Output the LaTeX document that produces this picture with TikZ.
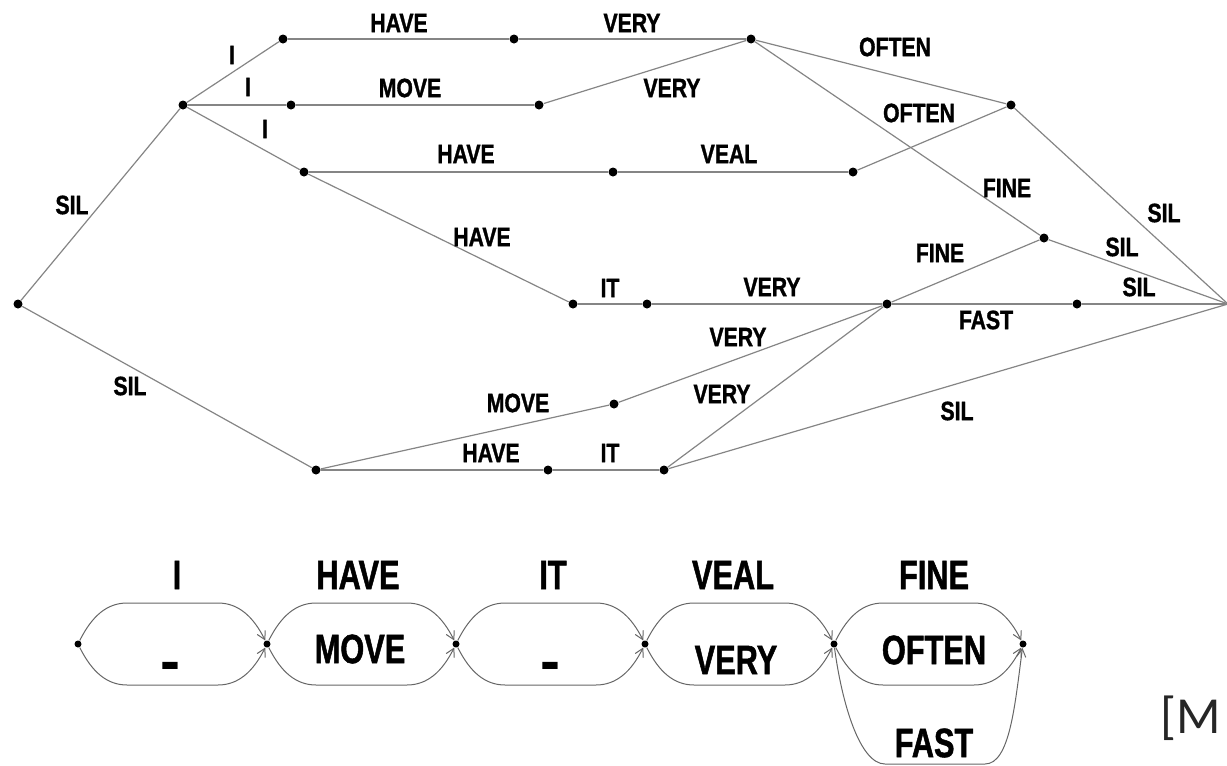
\documentclass[tikz,border=0pt]{standalone}
\usepackage{fontspec}
\usetikzlibrary{arrows.meta}
\newfontfamily\latfont[FakeStretch=0.8,BoldFeatures={FakeBold=1.2}]{Liberation Sans}
\newfontfamily\cnfont[FakeStretch=0.75,BoldFeatures={FakeBold=1.2}]{Liberation Sans}
\newfontfamily\dashfont{Liberation Sans}
\newfontfamily\citefont{Carlito}

\tikzset{
  dot/.style={circle,fill=black,inner sep=0pt,minimum size=4.5pt},
  sdot/.style={circle,fill=black,inner sep=0pt,minimum size=3.5pt},
  edge/.style={draw=black!48,line width=0.6pt},
  lbl/.style={font=\latfont\bfseries\fontsize{13.25}{14}\selectfont,inner sep=0pt},
  cnlbl/.style={font=\cnfont\bfseries\fontsize{20.5}{22}\selectfont,inner sep=0pt},
  dashlbl/.style={font=\dashfont\bfseries\fontsize{30}{32}\selectfont,inner sep=0pt,anchor=base},
  arc/.style={draw=black!60,line width=0.5pt,-{Straight Barb[length=4pt,width=4.5pt]}},
}

\begin{document}
\begin{tikzpicture}[x=0.5pt,y=-0.5pt]
\useasboundingbox (0,0) rectangle (1227,766);
\clip (0,0) rectangle (1227,766);

% ---------------- word lattice ----------------
\node[dot] (s) at (18,304) {};
\node[dot] (a) at (183,105) {};
\node[dot] (b) at (283,39) {};
\node[dot] (c) at (514,39) {};
\node[dot] (d) at (751,39) {};
\node[dot] (e) at (291,105) {};
\node[dot] (f) at (539,105) {};
\node[dot] (g) at (304,172) {};
\node[dot] (h) at (613,172) {};
\node[dot] (v) at (853,172) {};
\node[dot] (j) at (1011,105) {};
\node[dot] (k) at (573,304) {};
\node[dot] (l) at (647,304) {};
\node[dot] (m) at (887,304) {};
\node[dot] (n) at (1077,304) {};
\node[dot] (o) at (1044,238) {};
\node[dot] (p) at (316,470) {};
\node[dot] (q) at (548,470) {};
\node[dot] (r) at (664,470) {};
\node[dot] (t) at (614,404) {};
\coordinate (fin) at (1228,304);

\foreach \u/\w in {s/a,s/p,a/b,a/e,a/g,b/c,c/d,e/f,f/d,g/h,h/v,v/j,d/j,d/o,
                   g/k,k/l,l/m,m/o,m/n,n/fin,o/fin,j/fin,p/t,t/m,p/q,q/r,r/m,r/fin}
  \draw[edge] (\u) -- (\w);

\node[lbl] (l1)  at (72,205)   {SIL};
\node[lbl] (l2)  at (130,386)  {SIL};
\node[lbl] (l3)  at (232,55)   {I};
\node[lbl] (l4)  at (248,87)   {I};
\node[lbl] (l5)  at (265,129)  {I};
\node[lbl] (l6)  at (399,23)   {HAVE};
\node[lbl] (l7)  at (632,23)   {VERY};
\node[lbl] (l8)  at (410,88)   {MOVE};
\node[lbl] (l9)  at (672,88)   {VERY};
\node[lbl] (l10) at (466,154)  {HAVE};
\node[lbl] (l11) at (729,154)  {VEAL};
\node[lbl] (l12) at (895,47)   {OFTEN};
\node[lbl] (l13) at (919,113)  {OFTEN};
\node[lbl] (l14) at (1007,188) {FINE};
\node[lbl] (l15) at (482,237)  {HAVE};
\node[lbl] (l16) at (610,288)  {IT};
\node[lbl] (l17) at (772,287)  {VERY};
\node[lbl] (l18) at (940,253)  {FINE};
\node[lbl] (l19) at (1164,213) {SIL};
\node[lbl] (l20) at (1122,247) {SIL};
\node[lbl] (l21) at (1139,287) {SIL};
\node[lbl] (l22) at (986,320)  {FAST};
\node[lbl] (l23) at (738,337)  {VERY};
\node[lbl] (l24) at (518,403)  {MOVE};
\node[lbl] (l25) at (722,394)  {VERY};
\node[lbl] (l26) at (491,453)  {HAVE};
\node[lbl] (l27) at (610,453)  {IT};
\node[lbl] (l28) at (957,411)  {SIL};

% ---------------- confusion network ----------------
\foreach \i/\x in {0/78,1/267,2/456,3/645,4/834,5/1023}
  \node[sdot] (c\i) at (\x,644) {};

\foreach \i/\k in {0/1,1/2,2/3,3/4,4/5}{
  \draw[arc] (c\i) .. controls +(14,-28) and +(-20,0) .. ++(49,-41)
             -- ++(91,0) .. controls +(20,0) and +(-14,-28) .. (c\k);
  \draw[arc] (c\i) .. controls +(14,28) and +(-20,0) .. ++(49,41)
             -- ++(91,0) .. controls +(20,0) and +(-14,28) .. (c\k);
}
\draw[arc] (c4) .. controls +(8,60) and +(-25,0) .. ++(51,120)
           -- ++(100,0) .. controls +(25,0) and +(-8,60) .. (c5);

\node[cnlbl] (w1) at (177,575) {I};
\node[cnlbl] (w2) at (358,575) {HAVE};
\node[cnlbl] (w3) at (553,575) {IT};
\node[cnlbl] (w4) at (733,575) {VEAL};
\node[cnlbl] (w5) at (934,575) {FINE};
\node[dashlbl] (x1) at (170,681) {-};
\node[cnlbl] (x2) at (360,649) {MOVE};
\node[dashlbl] (x3) at (550,681) {-};
\node[cnlbl] (x4) at (736,660) {VERY};
\node[cnlbl] (x5) at (934,650) {OFTEN};
\node[cnlbl] (x6) at (934,743) {FAST};

\node[font=\citefont\fontsize{26}{28}\selectfont,anchor=base west,inner sep=0pt,
      text=black!85] (cite) at (1160,733) {[M};
\end{tikzpicture}
\end{document}
